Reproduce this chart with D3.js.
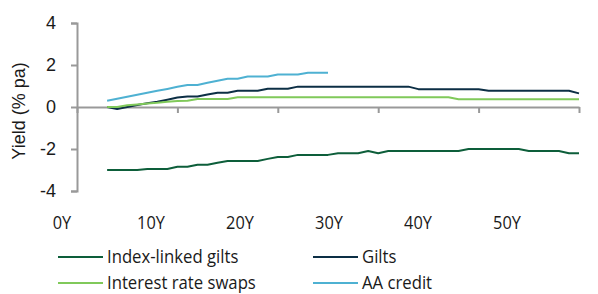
<!DOCTYPE html>
<html><head><meta charset="utf-8">
<script src="https://cdn.jsdelivr.net/npm/d3@7"></script>
<style>body{margin:0;background:#fff;} svg{display:block}</style>
</head><body><svg id="c" width="598" height="294"></svg>
<script>
const years = [3,4,5,6,7,8,9,10,11,12,13,14,15,16,17,18,19,20,21,22,23,24,25,26,27,28,29,30,31,32,33,34,35,36,37,38,39,40,41,42,43,44,45,46,47,48,49,50];
const indexLinked = [-3.0,-3.0,-3.0,-3.0,-2.95,-2.95,-2.95,-2.85,-2.85,-2.75,-2.75,-2.65,-2.57,-2.57,-2.57,-2.57,-2.47,-2.38,-2.38,-2.28,-2.28,-2.28,-2.28,-2.2,-2.2,-2.2,-2.1,-2.2,-2.1,-2.1,-2.1,-2.1,-2.1,-2.1,-2.1,-2.1,-2.0,-2.0,-2.0,-2.0,-2.0,-2.0,-2.1,-2.1,-2.1,-2.1,-2.2,-2.2];
const gilts = [0,-0.1,0,0.1,0.18,0.25,0.35,0.45,0.5,0.5,0.6,0.68,0.68,0.77,0.77,0.77,0.87,0.87,0.87,0.97,0.97,0.97,0.97,0.97,0.97,0.97,0.97,0.97,0.97,0.97,0.97,0.85,0.85,0.85,0.85,0.85,0.85,0.85,0.77,0.77,0.77,0.77,0.77,0.77,0.77,0.77,0.77,0.65];
const swaps = [0,0,0.08,0.12,0.17,0.2,0.25,0.28,0.3,0.38,0.38,0.38,0.38,0.46,0.46,0.46,0.46,0.46,0.46,0.46,0.46,0.46,0.46,0.46,0.46,0.46,0.46,0.46,0.46,0.46,0.46,0.46,0.46,0.46,0.46,0.37,0.37,0.37,0.37,0.37,0.37,0.37,0.37,0.37,0.37,0.37,0.37,0.37];
const aaCredit = [0.3,0.39,0.49,0.58,0.68,0.77,0.86,0.96,1.05,1.05,1.15,1.25,1.35,1.35,1.45,1.45,1.45,1.55,1.55,1.55,1.63,1.63,1.63];
const yTicks = [4,2,0,-2,-4];
const xTicks = [0,10,20,30,40,50];
const xLabels = ["0Y","10Y","20Y","30Y","40Y","50Y"];
const seriesNames = ["Index-linked gilts","Gilts","Interest rate swaps","AA credit"];
const colors = ["#0d5e3a","#0c2f45","#80c95a","#4eb1d2"];

const svg = d3.select("#c");
const x = d3.scaleLinear().domain([0,50]).range([77,579]);
const y = d3.scaleLinear().domain([-4,4]).range([191,23]);
const axisColor = "#999";

// y axis
const ya = svg.append("g").attr("transform","translate(77,0)")
  .call(d3.axisLeft(y).tickValues(yTicks).tickSize(6).tickPadding(15).tickFormat(d=>d));
ya.select(".domain").attr("stroke",axisColor).attr("stroke-width",2);
ya.selectAll(".tick line").attr("stroke",axisColor).attr("stroke-width",2);
ya.selectAll(".tick text").attr("font-family","'Liberation Sans', Arial, sans-serif").attr("font-size",18).attr("fill","#1a1a1a");

// x axis at zero
const xa = svg.append("g").attr("transform",`translate(0,${y(0)})`)
  .call(d3.axisBottom(x).tickValues(xTicks).tickSize(6).tickSizeOuter(0).tickFormat(""));
xa.select(".domain").attr("stroke",axisColor).attr("stroke-width",2);
xa.selectAll(".tick line").attr("stroke",axisColor).attr("stroke-width",2);

// category label row
const lx = d3.scalePoint().domain(xLabels).range([62,507]);
svg.append("g").selectAll("text").data(xLabels).join("text")
  .attr("transform",d=>`translate(${lx(d)},229) scale(0.86,1)`)
  .attr("text-anchor","middle").attr("font-family","'Open Sans', sans-serif").attr("font-size",19).attr("fill","#1a1a1a")
  .text(d=>d);

// y title
svg.append("text").attr("transform","translate(25,111) rotate(-90)").attr("text-anchor","middle")
  .attr("font-family","'Liberation Sans', Arial, sans-serif").attr("font-size",18).attr("fill","#1a1a1a").text("Yield (% pa)");

const data = [indexLinked, gilts, swaps, aaCredit];
const line = d3.line().x((d,i)=>x(years[i])).y(d=>y(d));
svg.append("g").selectAll("path").data(data).join("path")
  .attr("d",line).attr("fill","none").attr("stroke",(d,i)=>colors[i]).attr("stroke-width",2).attr("stroke-linejoin","round");

// legend
const leg = svg.append("g");
const pos = [[58,257],[313,257],[58,283],[313,283]];
seriesNames.forEach((n,i)=>{
  const g = leg.append("g").attr("transform",`translate(${pos[i][0]},${pos[i][1]})`);
  g.append("line").attr("x1",0).attr("x2",45).attr("y1",0).attr("y2",0).attr("stroke",colors[i]).attr("stroke-width",2);
  g.append("text").attr("transform","translate(49,6) scale(0.88,1)").attr("font-family","'Open Sans', sans-serif").attr("font-size",19).attr("fill","#1a1a1a").text(n);
});
</script></body></html>
